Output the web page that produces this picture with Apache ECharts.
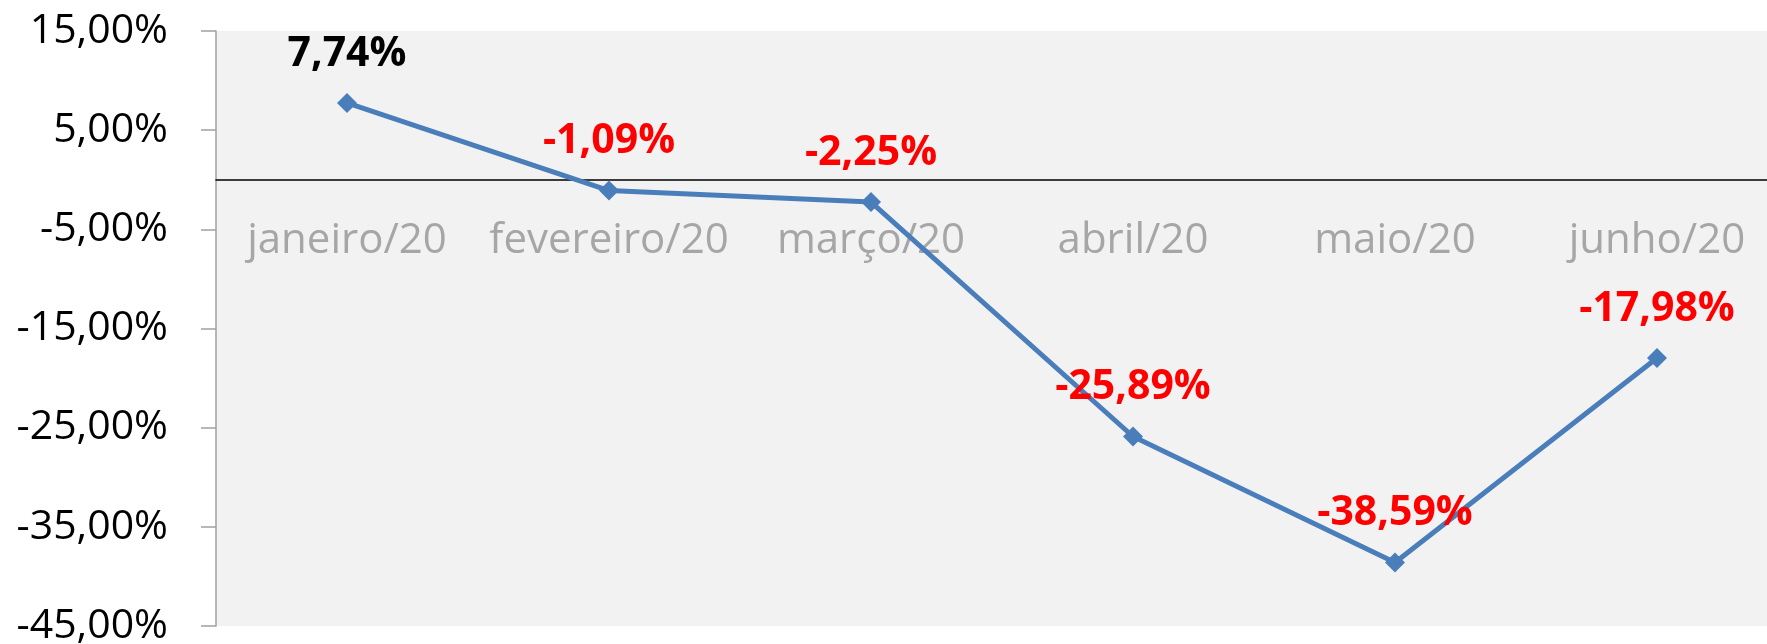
<!DOCTYPE html>
<html>
<head>
<meta charset="utf-8">
<script src="https://cdn.jsdelivr.net/npm/echarts@6/dist/echarts.min.js"></script>
<style>
  html, body { margin: 0; padding: 0; background: #fff; }
  #chart { width: 1767px; height: 644px; }
</style>
</head>
<body>
<div id="chart"></div>
<script>
const months = ["janeiro/20", "fevereiro/20", "março/20", "abril/20", "maio/20", "junho/20"];
const variation = [7.74, -1.09, -2.25, -25.89, -38.59, -17.98];
const yTicks = { min: -45, max: 15, step: 10 };

const fmt = (v) => v.toFixed(2).replace(".", ",") + "%";

// plot box, the category axis sits on the zero line
const gridTop = 31;
const gridBottom = 18;
const plotH = 644 - gridTop - gridBottom;
const zeroFromBottom = plotH * (0 - yTicks.min) / (yTicks.max - yTicks.min);

const chart = echarts.init(document.getElementById("chart"));

chart.setOption({
  animation: false,
  grid: {
    left: 216,
    right: -21,
    top: gridTop,
    bottom: gridBottom,
    outerBoundsMode: "none",
    containLabel: false,
    show: true,
    backgroundColor: "#f2f2f2",
    borderWidth: 0,
  },
  xAxis: {
    type: "category",
    data: months,
    boundaryGap: true,
    offset: -zeroFromBottom,
    axisLine: { onZero: false, lineStyle: { color: "#000", width: 1.5 } },
    axisTick: { show: false },
    axisLabel: {
      color: "#a6a6a6",
      fontFamily: "Open Sans",
      fontSize: 42,
      margin: 40,
      interval: 0,
    },
    splitLine: { show: false },
  },
  yAxis: {
    type: "value",
    min: yTicks.min,
    max: yTicks.max,
    interval: yTicks.step,
    axisLine: { show: true, onZero: false, lineStyle: { color: "#a0a0a0", width: 1.5 } },
    axisTick: { show: true, length: 15, lineStyle: { color: "#a0a0a0", width: 1.5 } },
    axisLabel: {
      color: "#000",
      fontFamily: "Open Sans",
      fontSize: 41,
      margin: 48,
      formatter: fmt,
    },
    splitLine: { show: false },
  },
  series: [
    {
      type: "line",
      data: variation.map((v) => ({
        value: v,
        label: { color: v < 0 ? "#ff0000" : "#000000" },
      })),
      symbol: "diamond",
      symbolSize: 20,
      itemStyle: { color: "#4a7ebb" },
      lineStyle: { color: "#4a7ebb", width: 5 },
      label: {
        show: true,
        position: "inside",
        offset: [0, -49],
        fontFamily: "Open Sans",
        fontWeight: "bold",
        fontSize: 41,
        formatter: (p) => fmt(p.value),
      },
    },
  ],
});
</script>
</body>
</html>
